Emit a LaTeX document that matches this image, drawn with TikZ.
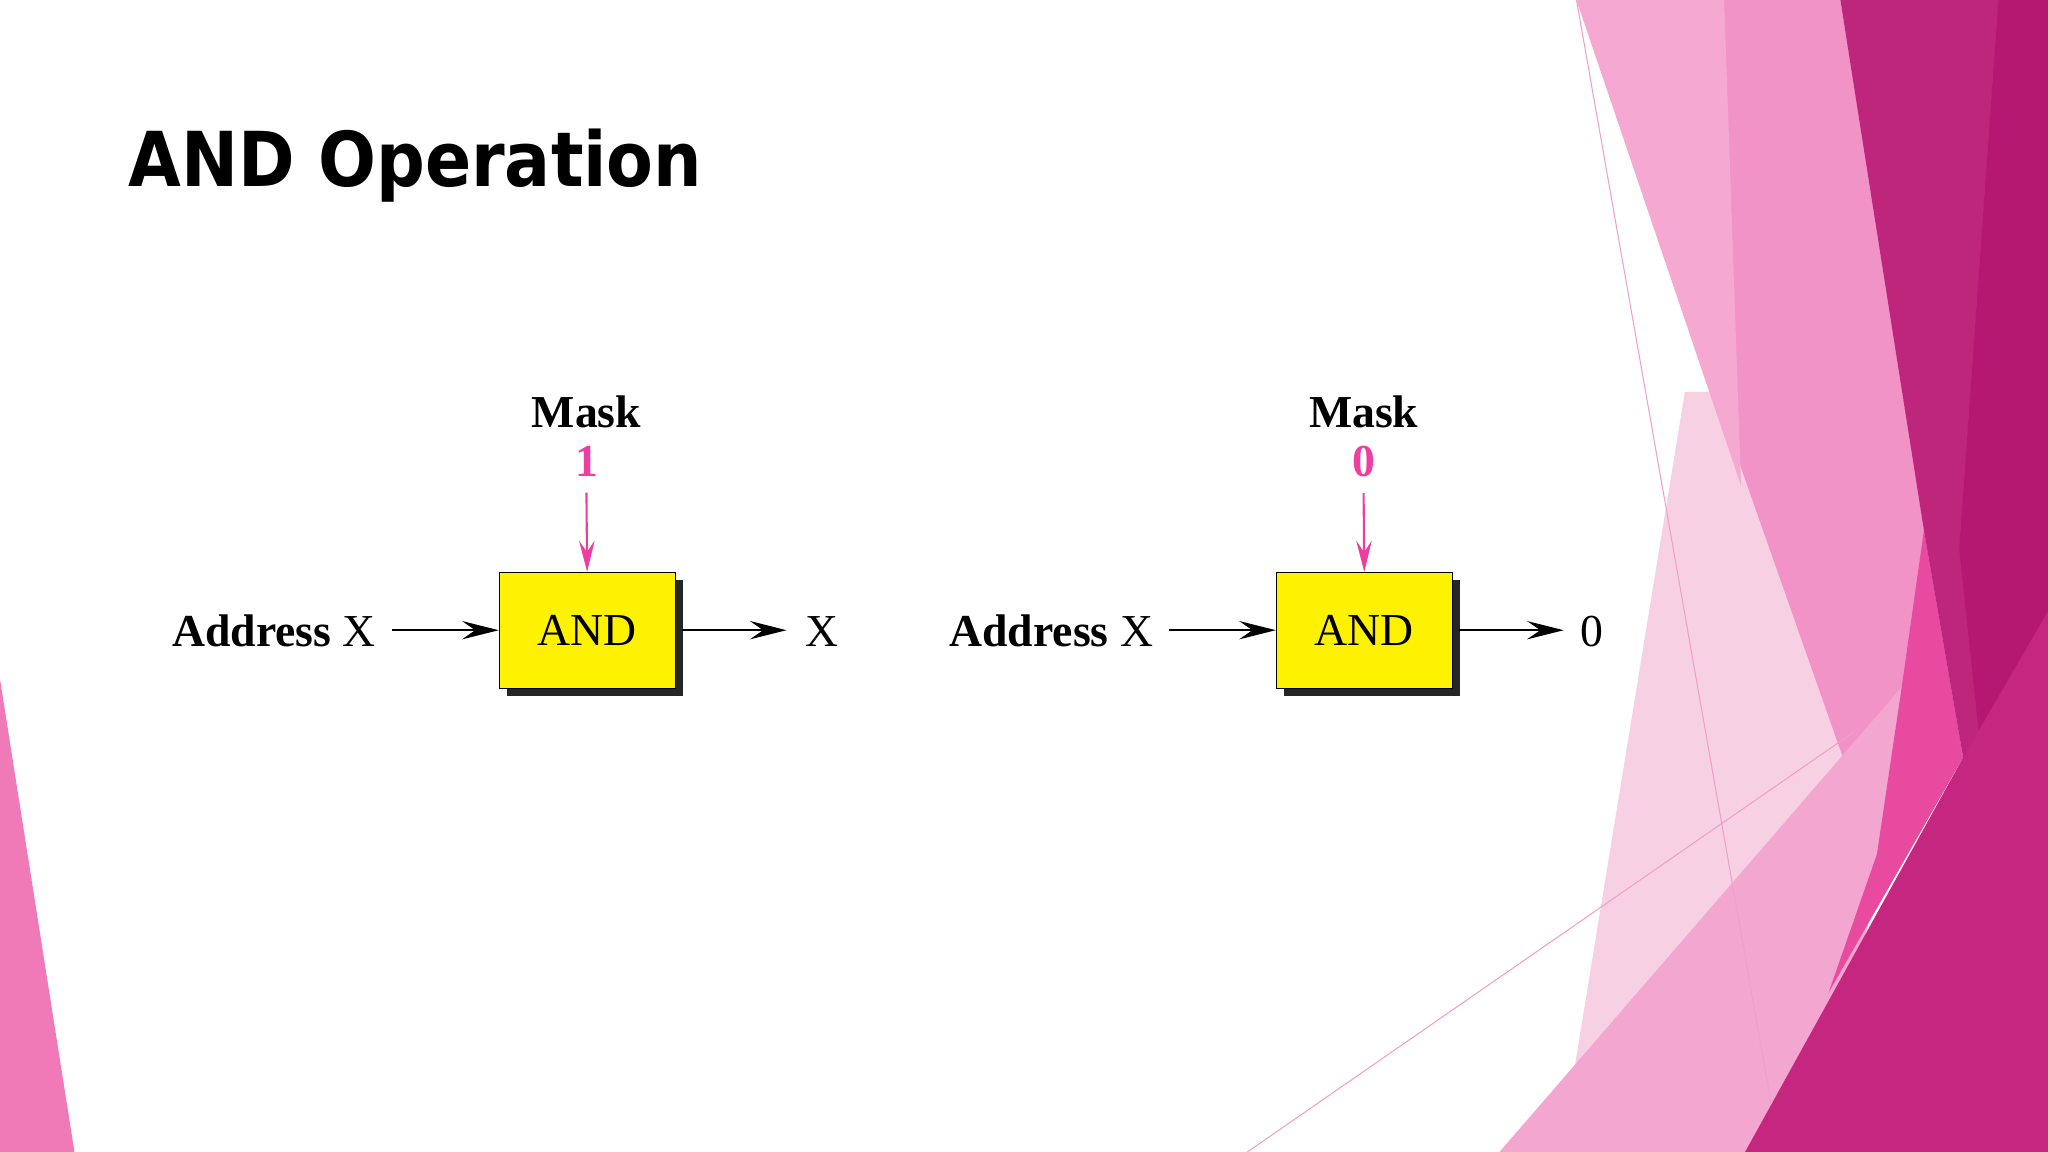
\documentclass[tikz,border=0pt]{standalone}
\usepackage{fontspec}
\setmainfont{Liberation Serif}
\newfontfamily\titlefont{DejaVu Sans}
\usetikzlibrary{arrows.meta}
\definecolor{mag}{HTML}{EE3FA0}
\definecolor{pA}{HTML}{F293C7}
\definecolor{pB}{HTML}{F8D0E4}
\definecolor{pC}{HTML}{F3A6D0}
\definecolor{pD}{HTML}{E84AA0}
\definecolor{pE}{HTML}{BE267C}
\definecolor{pF}{HTML}{C42680}
\definecolor{pG}{HTML}{B51870}
\definecolor{pL}{HTML}{F07AB8}
\definecolor{thinpink}{HTML}{F0A0C8}
\tikzset{
  andbox/.style={draw=black,fill=yellow,minimum width=135pt,minimum height=89pt,inner sep=0pt,font=\fontsize{35}{40}\selectfont},
  shadowbox/.style={fill=black!85,minimum width=135pt,minimum height=89pt,inner sep=0pt},
  lbl/.style={font=\fontsize{35}{40}\selectfont,inner sep=0pt},
  conn/.style={line width=1.6pt,-{Stealth[length=28pt,width=14pt,inset=10pt]}},
  mconn/.style={conn,draw=mag,-{Stealth[length=24pt,width=12pt,inset=9pt]},color=mag},
  bgline/.style={draw=thinpink,line width=0.8pt}
}
\begin{document}
\begin{tikzpicture}[x=1pt,y=-1pt]
\useasboundingbox (0,0) rectangle (1568,882);
\fill[white] (0,0) rectangle (1568,882);
% background shapes
\fill[pB] (1290,300) -- (1320,300) -- (1450,660) -- (1230,882) -- (1195,882) -- cycle;
\fill[pA] (1207,0) -- (1409,0) -- (1503,580) -- (1437,654) -- cycle;
\fill[pA!80!white] (1207,0) -- (1320,0) -- (1333,372) -- cycle;
\fill[pC] (1148,882) -- (1456,526) -- (1470,560) -- (1428,716) -- (1336,882) -- cycle;
\fill[pD] (1473,406) -- (1503,580) -- (1400,760) -- (1437,654) -- (1456,526) -- cycle;
\fill[pE] (1409,0) -- (1568,0) -- (1568,882) -- (1549,882) -- (1503,580) -- (1473,406) -- cycle;
\fill[pG] (1530,0) -- (1568,0) -- (1568,882) -- (1549,882) -- (1500,420) -- cycle;
\fill[pF] (1503,580) -- (1568,468) -- (1568,882) -- (1336,882) -- cycle;
\path[bgline] (1207,0) -- (1356,845);
\path[bgline] (955,882) -- (1420,560);
\fill[pL] (0,520) -- (57,882) -- (0,882) -- cycle;
% title
\node[anchor=base west,inner sep=0pt,font=\titlefont\bfseries\fontsize{58}{64}\selectfont,xscale=0.9] (title) at (98,143) {AND Operation};
% left diagram
\node[shadowbox] (s1) at (455.5,488.5) {};
\node[andbox] (b1) at (449.5,482.5) {AND};
\node[lbl,anchor=base east] (in1) at (288,495) {\textbf{Address} X};
\node[lbl,anchor=base] (out1) at (629,495) {X};
\node[lbl,anchor=base] (m1) at (449,327) {\textbf{Mask}};
\node[lbl,anchor=base,text=mag] (v1) at (449,365) {\textbf{1}};
\draw[conn] (in1.east|-b1) ++(12,0) coordinate (a1) (a1) -- (b1.west);
\draw[conn] (b1.east) ++(5,0) coordinate (c1) (c1) -- ++(80,0) coordinate (d1);
\draw[mconn] (v1.south) ++(0,12) coordinate (e1) (e1) -- (b1.north);
% right diagram
\node[shadowbox] (s2) at (1050.5,488.5) {};
\node[andbox] (b2) at (1044.5,482.5) {AND};
\node[lbl,anchor=base east] (in2) at (883,495) {\textbf{Address} X};
\node[lbl,anchor=base] (out2) at (1219,495) {0};
\node[lbl,anchor=base] (m2) at (1044,327) {\textbf{Mask}};
\node[lbl,anchor=base,text=mag] (v2) at (1044,365) {\textbf{0}};
\draw[conn] (in2.east|-b2) ++(12,0) coordinate (a2) (a2) -- (b2.west);
\draw[conn] (b2.east) ++(5,0) coordinate (c2) (c2) -- ++(80,0) coordinate (d2);
\draw[mconn] (v2.south) ++(0,12) coordinate (e2) (e2) -- (b2.north);
\end{tikzpicture}
\end{document}
